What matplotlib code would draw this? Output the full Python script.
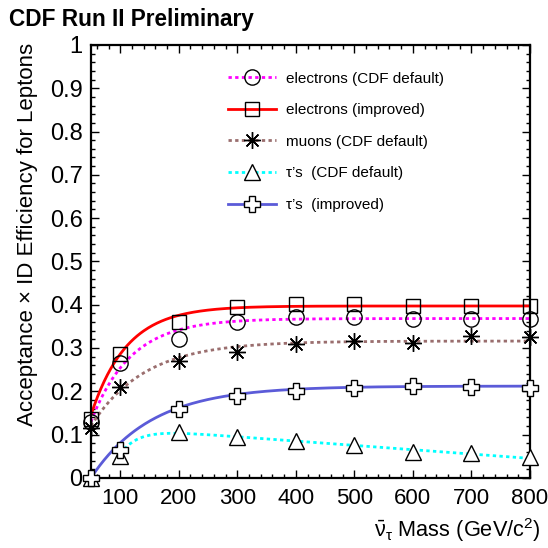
import numpy as np
import matplotlib
matplotlib.use('Agg')
import matplotlib.pyplot as plt
from matplotlib.ticker import MultipleLocator

matplotlib.rcParams.update({'font.family': ['Liberation Sans', 'DejaVu Sans'],
                            'mathtext.fontset': 'custom',
                            'mathtext.rm': 'Liberation Sans',
                            'mathtext.it': 'Liberation Sans'})

# measured points
mass = [50, 100, 200, 300, 400, 500, 600, 700, 800]
ele_default = [0.13, 0.265, 0.32, 0.36, 0.372, 0.372, 0.367, 0.366, 0.367]
ele_improved = [0.135, 0.287, 0.36, 0.395, 0.402, 0.401, 0.396, 0.397, 0.397]
mu_default = [0.115, 0.21, 0.27, 0.29, 0.31, 0.315, 0.312, 0.327, 0.325]
tau_default = [0.0, 0.05, 0.105, 0.095, 0.085, 0.075, 0.06, 0.058, 0.048]
tau_improved = [0.0, 0.065, 0.16, 0.19, 0.20, 0.207, 0.212, 0.21, 0.207]

# fit parameters: plateau, value at 50, scale
fit_ele_default = [0.368, 0.13, 68.0]
fit_ele_improved = [0.397, 0.145, 61.0]
fit_mu_default = [0.316, 0.12, 92.0]
fit_tau_improved = [0.212, 0.0, 104.0]
# tau default: (a + b*m) * (1 - exp(-(m - m0)/s))
fit_tau_default = [0.125, -1.0e-4, 80.0, 31.0]

labels = ['electrons (CDF default)', 'electrons (improved)', 'muons (CDF default)',
          "\u03c4\u2019s  (CDF default)", "\u03c4\u2019s  (improved)"]


def sat(m, p):
    a, b, s = p
    return a - (a - b) * np.exp(-(m - 50.0) / s)


def rise_fall(m, p):
    a, b, m0, s = p
    return (a + b * m) * (1 - np.exp(-(m - m0) / s))


fig = plt.figure(figsize=(5.48, 5.48), dpi=100)
ax = fig.add_axes([0.166, 0.128, 0.801, 0.79])

mm = np.linspace(50, 800, 400)
mt = np.linspace(100, 800, 400)

dot = (0, (1.2, 1.2))
mk = dict(ls='none', mec='k', mew=1, clip_on=False, zorder=5)
hE = []
l, = ax.plot(mm, sat(mm, fit_ele_default), color='#ff00ff', lw=2, ls=dot)
p = ax.plot(mass, ele_default, marker='o', mfc='none', ms=11, **mk)
hE.append((l, p[0]))
l, = ax.plot(mm, sat(mm, fit_ele_improved), color='#ff0000', lw=2)
p = ax.plot(mass, ele_improved, marker='s', mfc='none', ms=10, **mk)
hE.append((l, p[0]))
l, = ax.plot(mm, sat(mm, fit_mu_default), color='#9a6e6e', lw=2, ls=dot)
p = ax.plot(mass, mu_default, marker=(8, 2, 0), ms=12, **mk)
hE.append((l, p[0]))
l, = ax.plot(mt, rise_fall(mt, fit_tau_default), color='#00ffff', lw=2, ls=dot)
p = ax.plot(mass, tau_default, marker='^', mfc='white', ms=11.5, **mk)
hE.append((l, p[0]))
l, = ax.plot(mm, sat(mm, fit_tau_improved), color='#5b5bd8', lw=2)
p = ax.plot(mass, tau_improved, marker='P', mfc='white', ms=12, **mk)
hE.append((l, p[0]))

ax.legend(hE, labels, loc='upper left', bbox_to_anchor=(0.28, 0.97), frameon=False,
          fontsize=11, labelspacing=1.15, handlelength=3.15, handletextpad=0.65)

ax.set_xlim(50, 800)
ax.set_ylim(0, 1)
ax.xaxis.set_major_locator(MultipleLocator(100))
ax.xaxis.set_minor_locator(MultipleLocator(20))
ax.yaxis.set_major_locator(MultipleLocator(0.1))
ax.yaxis.set_minor_locator(MultipleLocator(0.02))
ax.set_xticks([100, 200, 300, 400, 500, 600, 700, 800])
ax.set_yticks(np.arange(0, 1.01, 0.1))
ax.set_yticklabels(['0', '0.1', '0.2', '0.3', '0.4', '0.5', '0.6', '0.7', '0.8', '0.9', '1'])
ax.tick_params(which='both', direction='in', top=True, right=True)
ax.tick_params(axis='x', pad=7, labelsize=16)
ax.tick_params(axis='y', pad=6, labelsize=17)
ax.tick_params(which='major', length=6, width=1)
ax.tick_params(which='minor', length=3, width=1)
for s in ax.spines.values():
    s.set_linewidth(1.6)

ax.set_xlabel(r'$\bar{\nu}_{\tau}$ Mass (GeV/c$^{2}$)', fontsize=15.7, loc='right')
ax.xaxis.set_label_coords(1.025, -0.088)
ax.set_ylabel('Acceptance \u00d7 ID Efficiency for Leptons', fontsize=16, loc='top')
ax.yaxis.set_label_coords(-0.12, 1.005)
fig.text(0.017, 0.952, 'CDF Run II Preliminary', fontsize=16.3, fontweight='bold')

plt.savefig('out.png', dpi=100)
